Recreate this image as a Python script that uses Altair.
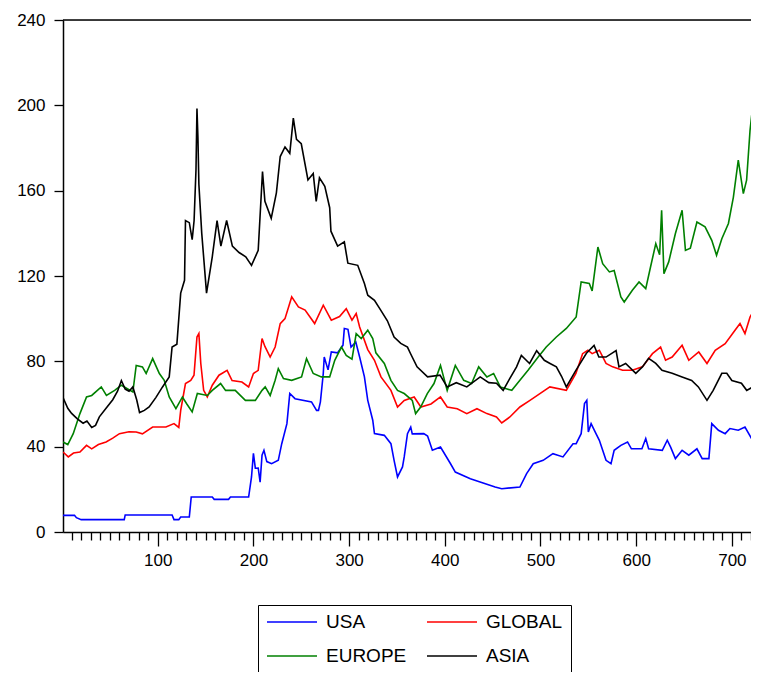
import altair as alt
import pandas as pd

series_names = ["USA", "EUROPE", "GLOBAL", "ASIA"]
series_colors = ["#0000FF", "#008000", "#FF0000", "#000000"]

usa_x = [1, 13, 15, 20, 65, 66, 115, 117, 122, 124, 133, 135, 157, 159, 174, 176, 195, 198, 200, 202, 205, 207, 209, 211, 214, 219, 226, 229.6, 235, 238, 243.5, 260.7, 266, 268, 270, 273, 274, 278, 281.4, 288, 293.6, 295, 298.8, 302, 307, 311, 316, 319.5, 324.7, 326.5, 336.8, 343.7, 347, 350.6, 355.8, 357.6, 361, 364.4, 366, 378, 382, 387, 395.5, 406, 411, 426.7, 452.6, 459.5, 478.5, 485.5, 492.4, 502.8, 513, 523.5, 534, 537.3, 542.5, 546, 548.4, 550, 552.9, 558, 561.5, 565, 568.5, 573.7, 577, 584, 591, 595, 606, 610, 613, 627.3, 632.5, 636, 641, 648, 655, 663.5, 669, 676, 679, 686, 693, 698, 706.7, 713.7, 720.6]
usa_y = [7.8, 7.8, 6.7, 5.8, 5.8, 8, 8, 5.8, 5.8, 7, 7, 16.4, 16.4, 15.3, 15.3, 16.4, 16.4, 25.8, 36.9, 29.9, 30, 23.4, 36, 38.3, 33, 32, 33.6, 41.4, 50.8, 64.9, 62.5, 61, 57, 57, 61, 74.3, 82, 76, 84.4, 84, 87.5, 95.4, 95, 86.7, 89, 82, 72.7, 61.7, 52.4, 46.1, 45.3, 41.4, 33.6, 25.8, 30.5, 35.2, 46.1, 49.2, 46, 46.1, 45, 38.3, 39.8, 32, 28.1, 25, 21.1, 20.3, 21.1, 27.4, 32, 33.6, 36.7, 35.2, 41.4, 41.4, 46.1, 60.2, 61.7, 46.9, 50.8, 46.1, 43, 38.3, 33.6, 32, 38.3, 40.6, 42.2, 39, 39, 43.8, 39, 38.3, 43, 39.8, 34.4, 38.3, 36, 39, 34.4, 34.4, 50.8, 47.7, 46.1, 48.5, 47.7, 49.2, 43.8]

global_x = [1, 6.5, 12, 18.7, 25.6, 31, 38, 46, 53, 60, 70, 77.5, 84, 94.7, 108.6, 117, 122, 124, 129, 134.5, 137.9, 141, 143, 145, 148, 151.8, 157, 164, 172.5, 177.7, 188, 195, 200, 205, 209, 212, 217.5, 222.7, 228, 233, 240, 247, 254, 264, 273, 281.4, 290, 297, 303, 307.4, 311, 319.5, 326.5, 333.3, 343.7, 350.6, 357.6, 368, 375, 385.6, 395.5, 402.5, 413, 423, 433.6, 444, 454, 459.5, 468, 478.5, 489, 499.4, 509.8, 527, 537, 544, 549.5, 554, 561.5, 568.5, 575.4, 585.8, 596, 606.5, 617, 625.5, 630.7, 637.6, 648, 655, 665.4, 674, 682.6, 693, 703.3, 708.5, 713.7, 719, 722]
global_y = [37.5, 35.2, 37, 37.5, 40.6, 39, 41, 42.2, 44, 46.1, 47, 46.9, 46, 49.2, 49.2, 50.8, 49, 57, 69.6, 71.1, 73.5, 91.4, 93, 79, 66.4, 63.3, 68.8, 73.5, 75.8, 71, 70.3, 68, 74.3, 75.8, 90.7, 87, 82, 86.7, 97.7, 100, 110.2, 105.5, 104, 97.7, 106.3, 99.3, 101, 104.7, 99.3, 102.4, 96.1, 85.5, 80.5, 72.7, 66.4, 58.6, 61.7, 63.3, 58.6, 60, 63.3, 58.6, 57.8, 55.5, 57.8, 55.5, 53.9, 51.1, 53.9, 58.6, 61.7, 64.9, 68, 66.4, 74.3, 83.6, 85.2, 83.6, 85.2, 79, 77.4, 75.8, 75.8, 77.4, 83.6, 86.7, 80.5, 82, 87.5, 80.5, 84.4, 79, 85.2, 88.3, 94.6, 97.7, 93, 100.8, 103]

europe_x = [1, 6, 11.7, 18.7, 25.6, 31, 41, 46.4, 55, 62, 74, 77.5, 84, 87.9, 94.7, 101.7, 106.8, 112, 119, 125.8, 130.4, 136, 141.4, 151.8, 157, 165.7, 170.9, 181, 191.6, 202, 209, 212.3, 217.5, 222.7, 226, 231.4, 240, 250.3, 255.5, 262.5, 271, 279.7, 285, 292, 297, 303, 307.4, 312.7, 319.5, 324.7, 328, 336.8, 343.7, 350.6, 357.6, 366, 369.5, 374.8, 381.7, 388.7, 395.5, 402.5, 411, 419.8, 428, 435.4, 444, 451, 458, 470, 478.5, 487, 497.6, 506, 516.6, 527, 537.3, 542.5, 551, 554, 560, 565, 572, 577, 584, 587.5, 596, 603, 610, 615, 620.5, 624.5, 626.6, 629, 634, 641, 648, 651.5, 656.6, 663.5, 672, 679, 684, 689.5, 696.4, 701.6, 706.7, 712, 715.4, 719, 721.3]
europe_y = [42.2, 41, 46.1, 55.5, 63.3, 64, 68, 64, 66.4, 68.8, 65.6, 78.1, 77.4, 74.3, 81.3, 74.3, 71.1, 63.3, 57.8, 63.3, 60, 56.3, 64.9, 64, 66.4, 69.6, 66.4, 66.4, 61.7, 61.7, 66.4, 68, 64, 71.1, 76.6, 71.9, 71.1, 72.7, 81.3, 74.3, 72.7, 72.7, 80.5, 86.7, 82.8, 81, 93, 90.7, 94.6, 90.7, 84, 79, 71.1, 66.4, 64.9, 61.7, 55.5, 58.6, 64.9, 69.6, 78.1, 66.4, 78.1, 71.1, 69.6, 77.4, 72.7, 74.3, 68, 66.4, 71.1, 75.8, 82, 86.7, 91.4, 95.4, 100.8, 117.2, 116.5, 113, 133.6, 125.8, 121.9, 122.6, 110.2, 107.8, 113.3, 117.2, 114.1, 124.2, 135.2, 130, 150.8, 121.1, 126.6, 139.9, 150.8, 132, 133, 145.3, 143, 136.7, 129.7, 137.5, 144.6, 157, 174.3, 158.6, 164.9, 188.3, 197.7]

asia_x = [1, 6, 10, 16, 22, 26, 31, 35, 39, 46, 53, 58, 62, 66, 70, 74, 78, 81, 86, 91, 98, 105, 112, 115, 120, 124, 128, 129, 133, 136, 138, 140, 141, 142, 143, 146, 151, 157, 162, 166, 172, 178, 185, 192, 198, 205, 209.5, 212, 218.6, 224, 228, 233, 238, 241.7, 245, 250, 257, 262.5, 265.6, 269, 274.6, 279.7, 281, 288, 295, 298.7, 309, 316, 319.5, 326.5, 333, 340, 347, 354, 361, 364, 371, 382, 395, 402.5, 412, 423, 437, 446, 454, 461, 468, 475, 480, 488.6, 496, 504, 510, 516.6, 522, 527, 537, 548, 556, 561, 568.5, 579, 582, 589, 599.6, 606.5, 613, 620.5, 627, 637.6, 648, 658, 665, 674, 680.5, 689.5, 694.7, 700, 710, 715.5, 722]
asia_y = [63, 58, 55.6, 53, 51, 52, 49, 50, 54, 58, 62, 66, 71, 67, 66, 68, 62, 56, 57, 58.6, 63, 68, 72.7, 86.7, 88, 112, 118, 146, 145, 137, 146, 170, 198.5, 185, 163, 140, 112, 129, 146, 134, 146, 134, 131, 129, 125, 132, 169, 155, 147, 159, 176, 180.5, 177.5, 194, 184, 182, 165, 168, 155, 166, 162, 152, 141, 134, 136, 126, 125, 116.5, 111, 108.6, 104, 99, 91.4, 88.4, 86.7, 83.8, 77.4, 72.7, 73.5, 68, 70, 68, 72.7, 70, 69.7, 66.4, 72, 77.4, 82.8, 79, 85, 80.5, 79, 77.4, 73, 68, 75.8, 83.8, 87.5, 82, 82, 85, 77.4, 79, 74.4, 77.4, 81.4, 79, 75.8, 74.4, 72.7, 71, 68, 61.7, 66.4, 74.4, 74.4, 71, 69.7, 66.4, 68]

y_ticks = [0, 40, 80, 120, 160, 200, 240]
x_ticks = list(range(10, 730, 10))
top_value = [240]

rows = []
for name, xs, ys in [("USA", usa_x, usa_y), ("GLOBAL", global_x, global_y),
                     ("EUROPE", europe_x, europe_y), ("ASIA", asia_x, asia_y)]:
    for a, b in zip(xs, ys):
        rows.append({"series": name, "t": a, "value": b})
df = pd.DataFrame(rows)

FONT = "Liberation Sans"

x_enc = alt.X(
    "t:Q",
    title=None,
    scale=alt.Scale(domain=[1, 720], nice=False, zero=False),
    axis=alt.Axis(
        values=x_ticks,
        labelExpr="datum.value % 100 == 0 ? datum.label : ''",
        tickSize={"condition": {"test": "datum.value % 100 === 0", "value": 14}, "value": 8},
        tickColor="black", tickWidth=1.3,
        domainColor="black", domainWidth=1.5,
        labelFont=FONT, labelFontSize=17, labelColor="black", labelPadding=6,
        grid=False, labelFlush=False, labelOverlap=False,
    ),
)
y_enc = alt.Y(
    "value:Q",
    title=None,
    scale=alt.Scale(domain=[0, 240], nice=False),
    axis=alt.Axis(
        values=y_ticks, tickSize=9, tickColor="black", tickWidth=1.3,
        domainColor="black", domainWidth=1.5,
        labelFont=FONT, labelFontSize=17, labelColor="black", labelPadding=9,
        grid=False, labelFlush=False,
    ),
)

lines = alt.Chart(df).mark_line(strokeWidth=1.6, clip=True).encode(
    x=x_enc,
    y=y_enc,
    color=alt.Color(
        "series:N",
        scale=alt.Scale(domain=series_names, range=series_colors),
        legend=alt.Legend(
            title=None, orient="none", legendX=195, legendY=585, columns=2,
            symbolType="stroke", symbolSize=2500, symbolStrokeWidth=1.5,
            labelFont=FONT, labelFontSize=19, labelColor="black", labelOffset=8,
            columnPadding=19, rowPadding=15, clipHeight=18,
            strokeColor="black", fillColor="white", padding=8,
        ),
    ),
    detail="series:N",
)

top_rule = alt.Chart(pd.DataFrame({"v": top_value})).mark_rule(
    color="black", strokeWidth=1.5
).encode(y="v:Q")

chart = alt.layer(lines, top_rule).properties(
    width=688, height=512,
    padding={"left": 55, "top": 12, "right": 0, "bottom": 140},
    autosize=alt.AutoSizeParams(type="none"),
).configure_view(stroke=None).configure(background="white")

chart.save("out.html", embed_options={"renderer": "svg", "actions": False})
